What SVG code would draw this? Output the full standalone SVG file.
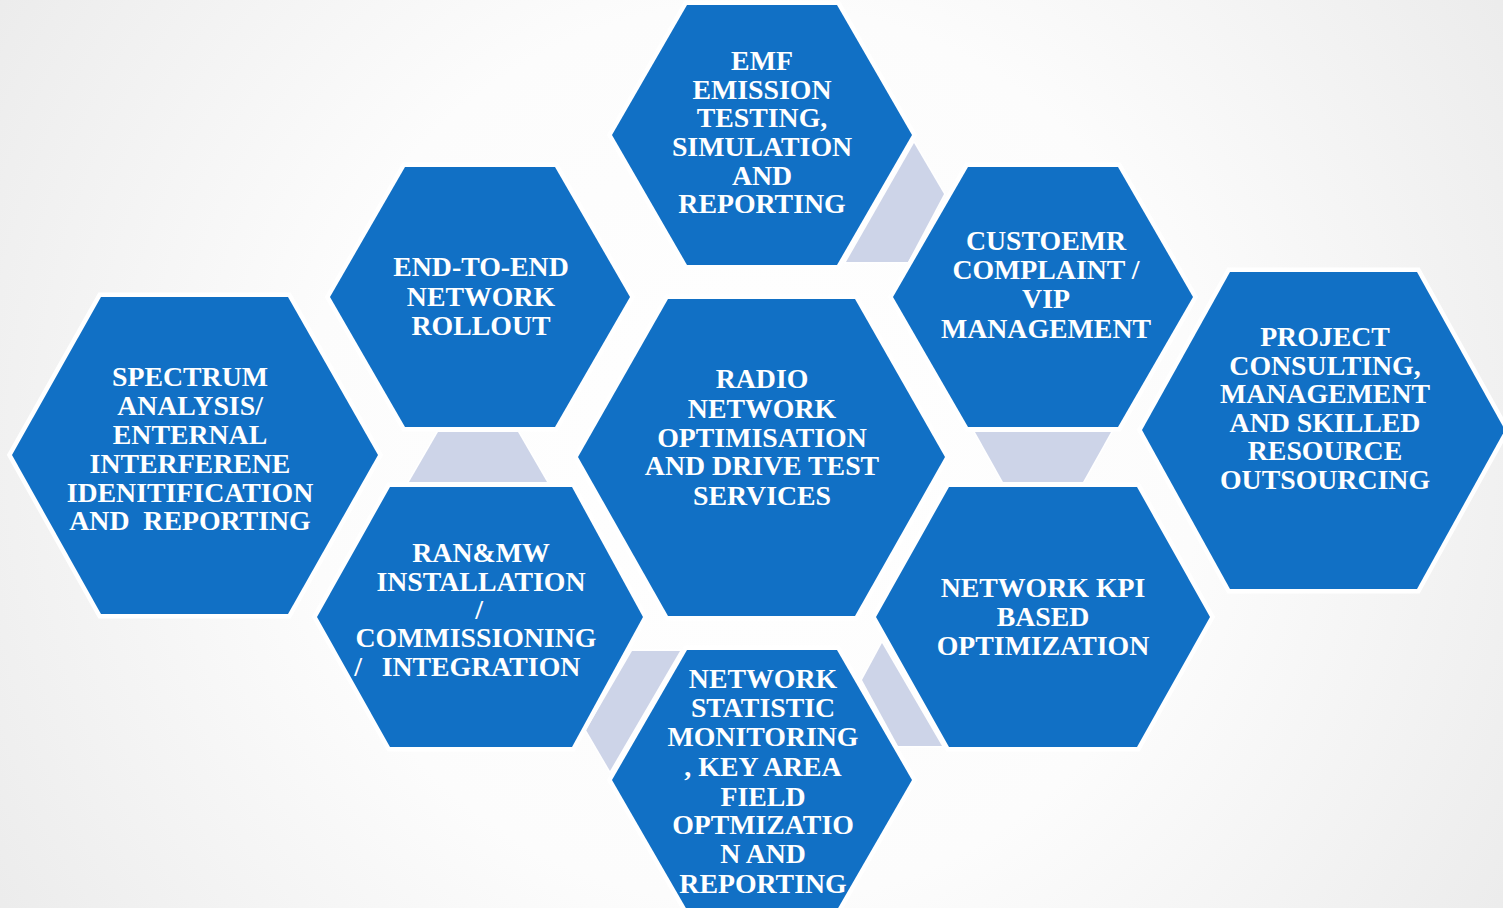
<svg xmlns="http://www.w3.org/2000/svg" width="1503" height="908" viewBox="0 0 1503 908">
<defs>
<radialGradient id="bg" cx="751" cy="454" r="900" gradientUnits="userSpaceOnUse">
<stop offset="0" stop-color="#FFFFFF"/>
<stop offset="0.5" stop-color="#FCFCFC"/>
<stop offset="1" stop-color="#EBEBEB"/>
</radialGradient>
<style>
.hex{fill:#1170C5;stroke:#FFFFFF;stroke-width:9;stroke-linejoin:miter;paint-order:stroke}
.con{fill:#CDD4E8;stroke:#FFFFFF;stroke-width:3;paint-order:stroke}
.t{font-family:"Liberation Serif","Times New Roman",serif;font-weight:bold;font-size:27.8px;fill:#FFFFFF;text-anchor:middle}
</style>
</defs>
<rect x="0" y="0" width="1503" height="908" fill="url(#bg)"/>
<g id="connectors">
<polygon class="con" points="914,143 944,194 908,262 846,262"/>
<polygon class="con" points="438,432 518,432 547,482 409,482"/>
<polygon class="con" points="975,432 1111,432 1083,482 1003,482"/>
<polygon class="con" points="632,651 680,651 610,771 586,730"/>
<polygon class="con" points="882,643 942,746 898,746 862,680"/>
</g>
<g id="emf">
<polygon class="hex" points="612,135 687,5 837,5 912,135 837,265 687,265"/>
<text class="t"><tspan x="762" y="70">EMF</tspan><tspan x="762" y="99">EMISSION</tspan><tspan x="762" y="127">TESTING,</tspan><tspan x="762" y="156">SIMULATION</tspan><tspan x="762" y="185">AND</tspan><tspan x="762" y="213">REPORTING</tspan></text>
</g>
<g id="rollout">
<polygon class="hex" points="330,297 405,167 555,167 630,297 555,427 405,427"/>
<text class="t"><tspan x="481" y="276">END-TO-END</tspan><tspan x="481" y="306">NETWORK</tspan><tspan x="481" y="335">ROLLOUT</tspan></text>
</g>
<g id="customer">
<polygon class="hex" points="893,297 968,167 1118,167 1193,297 1118,427 968,427"/>
<text class="t"><tspan x="1046" y="250">CUSTOEMR</tspan><tspan x="1046" y="279">COMPLAINT /</tspan><tspan x="1046" y="308">VIP</tspan><tspan x="1046" y="338">MANAGEMENT</tspan></text>
</g>
<g id="spectrum">
<polygon class="hex" points="12,455 101,297 288,297 378,455 288,614 101,614"/>
<text class="t"><tspan x="190" y="386">SPECTRUM</tspan><tspan x="190" y="415">ANALYSIS/</tspan><tspan x="190" y="444">ENTERNAL</tspan><tspan x="190" y="473">INTERFERENE</tspan><tspan x="190" y="502">IDENITIFICATION</tspan></text>
<text class="t" xml:space="preserve" x="190" y="530">AND  REPORTING</text>
</g>
<g id="radio">
<polygon class="hex" points="578,457 668,299 855,299 945,457 855,616 668,616"/>
<text class="t"><tspan x="762" y="388">RADIO</tspan><tspan x="762" y="418">NETWORK</tspan><tspan x="762" y="447">OPTIMISATION</tspan><tspan x="762" y="475">AND DRIVE TEST</tspan><tspan x="762" y="505">SERVICES</tspan></text>
</g>
<g id="project">
<polygon class="hex" points="1142,430 1230,272 1417,272 1505,430 1417,589 1230,589"/>
<text class="t"><tspan x="1325" y="346">PROJECT</tspan><tspan x="1325" y="375">CONSULTING,</tspan><tspan x="1325" y="403">MANAGEMENT</tspan><tspan x="1325" y="432">AND SKILLED</tspan><tspan x="1325" y="460">RESOURCE</tspan><tspan x="1325" y="489">OUTSOURCING</tspan></text>
</g>
<g id="ran">
<polygon class="hex" points="317,617 390,487 572,487 643,617 572,747 390,747"/>
<text class="t"><tspan x="481" y="562">RAN&amp;MW</tspan><tspan x="481" y="591">INSTALLATION</tspan><tspan x="479" y="619">/</tspan><tspan x="476" y="647">COMMISSIONING</tspan><tspan x="481" y="676">INTEGRATION</tspan><tspan x="358" y="676">/</tspan></text>
</g>
<g id="kpi">
<polygon class="hex" points="876,617 949,487 1137,487 1210,617 1137,747 949,747"/>
<text class="t"><tspan x="1043" y="597">NETWORK KPI</tspan><tspan x="1043" y="626">BASED</tspan><tspan x="1043" y="655">OPTIMIZATION</tspan></text>
</g>
<g id="statistic">
<polygon class="hex" points="612,780 687,650 837,650 912,780 837,910 687,910"/>
<text class="t"><tspan x="763" y="688">NETWORK</tspan><tspan x="763" y="717">STATISTIC</tspan><tspan x="763" y="746">MONITORING</tspan><tspan x="763" y="776">, KEY AREA</tspan><tspan x="763" y="806">FIELD</tspan><tspan x="763" y="834">OPTMIZATIO</tspan><tspan x="763" y="863">N AND</tspan><tspan x="763" y="893">REPORTING</tspan></text>
</g>
</svg>
